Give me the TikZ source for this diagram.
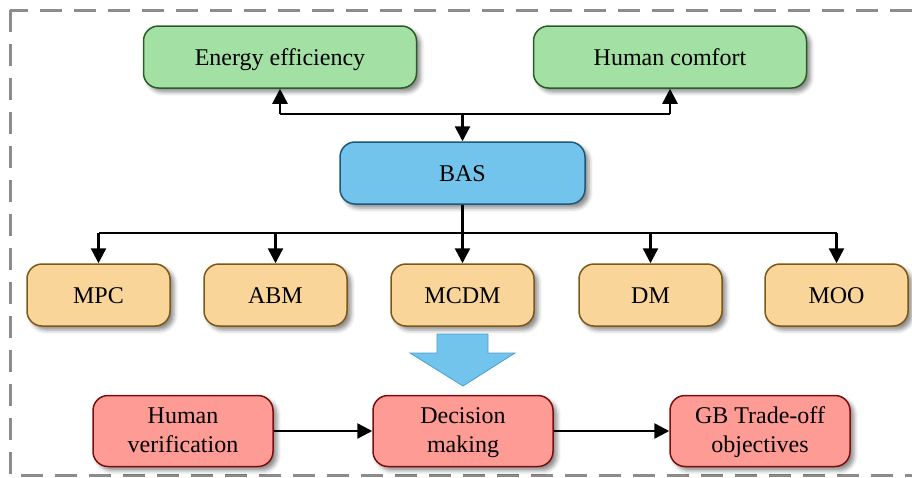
\documentclass[tikz,border=0pt]{standalone}
\usepackage{fontspec}
\setmainfont{Liberation Serif}
\newfontfamily\boxfont{Liberation Serif}
\usetikzlibrary{arrows.meta,shadows.blur}

\definecolor{goalfill}{HTML}{A3E0A3}
\definecolor{goaldraw}{HTML}{2B5A2B}
\definecolor{basfill}{HTML}{72C4EC}
\definecolor{basdraw}{HTML}{1C5878}
\definecolor{methfill}{HTML}{FAD59A}
\definecolor{methdraw}{HTML}{7D5715}
\definecolor{outfill}{HTML}{FE9B94}
\definecolor{outdraw}{HTML}{7A0E0E}
\definecolor{bigarrowdraw}{HTML}{4A9FCF}
\definecolor{framegray}{HTML}{8C8C8C}

\tikzset{
  box/.style={draw, line width=1.5pt, rounded corners=15pt, inner sep=0pt,
    align=center, font=\boxfont\fontsize{24}{29}\selectfont,
    blur shadow={shadow xshift=4pt, shadow yshift=-4pt, shadow blur radius=4pt,
      shadow opacity=45}},
  oneline/.style={text height=22pt, text depth=6pt},
  twoline/.style={text height=51pt, text depth=9pt},
  goal/.style={box, oneline, fill=goalfill, draw=goaldraw, minimum width=273pt, minimum height=62pt},
  bas/.style={box, oneline, fill=basfill, draw=basdraw, minimum width=245pt, minimum height=62pt},
  method/.style={box, oneline, fill=methfill, draw=methdraw, minimum width=143pt, minimum height=62pt},
  outcome/.style={box, twoline, fill=outfill, draw=outdraw, minimum width=180pt, minimum height=71pt},
  link/.style={line width=2.5pt, black},
  arrowlink/.style={link, -{Triangle[width=15pt,length=15pt]}},
  frame/.style={draw=framegray, line width=3pt, dash pattern=on 22pt off 12pt},
}

\begin{document}
\begin{tikzpicture}[x=1pt, y=-1pt]
  \useasboundingbox (0,0) rectangle (912,477);

  % outer dashed frame
  \draw[frame] (10,10) rectangle (914,475);

  % objectives
  \node[goal] (ee) at (280,57) {Energy efficiency};
  \node[goal] (hc) at (670,57) {Human comfort};

  % building automation system
  \node[bas] (bas) at (462.5,173) {BAS};

  % methods
  \node[method] (mpc)  at (98.5,295)  {MPC};
  \node[method] (abm)  at (275.5,295) {ABM};
  \node[method] (mcdm) at (462.5,295) {MCDM};
  \node[method] (dm)   at (650.5,295) {DM};
  \node[method] (moo)  at (836.5,295) {MOO};

  % outcomes
  \node[outcome] (hv)  at (183,431) {Human\\verification};
  \node[outcome] (dec) at (463,431) {Decision\\making};
  \node[outcome] (gb)  at (760,431) {GB Trade-off\\objectives};

  % upper bus between objectives and BAS
  \coordinate (busL) at (ee.south |- 0,114);
  \coordinate (busR) at (hc.south |- 0,114);
  \coordinate (busM) at (bas.north |- 0,114);
  \draw[link] (busL) -- (busR);
  \draw[arrowlink] (busL) -- (ee.south);
  \draw[arrowlink] (busR) -- (hc.south);
  \draw[arrowlink] (busM) -- (bas.north);

  % lower bus from BAS to methods
  \coordinate (lowM) at (bas.south |- 0,233);
  \coordinate (lowL) at (mpc.north |- 0,233);
  \coordinate (lowR) at (moo.north |- 0,233);
  \draw[link] (bas.south) -- (lowM);
  \draw[link] (lowL) -- (lowR);
  \foreach \m in {mpc,abm,mcdm,dm,moo}
    \draw[arrowlink] (\m.north |- lowM) -- (\m.north);

  % big block arrow
  \draw[fill=basfill, draw=bigarrowdraw, line width=0.8pt]
    (437,334) -- (488,334) -- (488,353) -- (515,353) -- (463,386)
    -- (410,353) -- (437,353) -- cycle;

  % outcome chain
  \draw[arrowlink] (hv.east) -- (dec.west);
  \draw[arrowlink] (dec.east) -- (gb.west);
\end{tikzpicture}
\end{document}
